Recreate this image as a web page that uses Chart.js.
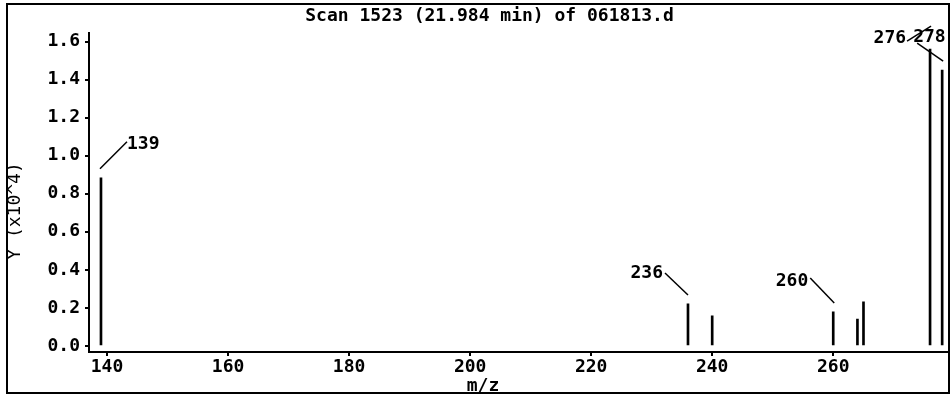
<!DOCTYPE html>
<html>
<head>
<meta charset="utf-8">
<script src="https://cdn.jsdelivr.net/npm/chart.js@4.4.1/dist/chart.umd.min.js"></script>
<style>
  html, body { margin: 0; padding: 0; background: #fff; }
  #wrap { width: 951px; height: 396px; }
</style>
</head>
<body>
<div id="wrap"><canvas id="c" width="951" height="396"></canvas></div>
<script>
// mass spectrum, intensities in units of 10^4
const mzValues = [139, 236, 240, 260, 264, 265, 276, 278];
const intensities = [0.884, 0.221, 0.158, 0.179, 0.142, 0.232, 1.56, 1.45];
const labeledPeaks = ['139', '236', '260', '276', '278'];
const xTicks = [140, 160, 180, 200, 220, 240, 260];
const yTicks = [0.0, 0.2, 0.4, 0.6, 0.8, 1.0, 1.2, 1.4, 1.6];
const titleText = 'Scan 1523 (21.984 min) of 061813.d';
const xTitle = 'm/z';
const yTitle = 'Y (x10^4)';

const FONT = '"DejaVu Sans Mono", "Liberation Mono", monospace';

// leader line + text placement for each peak label (relative to bar top)
const leaderStyle = {
  '139': { from: [-1, -9], to: [26, -36], text: [26, -33], align: 'left' },
  '236': { from: [0, -9], to: [-23, -31], text: [-25, -31], align: 'right' },
  '260': { from: [1, -9], to: [-23, -34], text: [-25, -31], align: 'right' },
  '276': { from: [-23, -8], to: [1, -23], text: [-24, -11], align: 'right' },
  '278': { from: [-25, -27], to: [1, -9], text: [-29, -33], align: 'left' }
};

const frame = {
  id: 'frame',
  beforeDraw(chart) {
    const ctx = chart.ctx;
    ctx.save();
    ctx.fillStyle = '#fff';
    ctx.fillRect(0, 0, chart.width, chart.height);
    ctx.strokeStyle = '#000';
    ctx.lineWidth = 2;
    ctx.strokeRect(7, 4, 942, 389);
    ctx.restore();
  },
  afterDraw(chart) {
    const ctx = chart.ctx;
    ctx.save();
    ctx.fillStyle = '#000';
    ctx.textAlign = 'center';
    ctx.textBaseline = 'middle';
    ctx.font = 'bold 18px ' + FONT;
    ctx.fillText(xTitle, 483, 386);
    ctx.font = '18px ' + FONT;
    ctx.translate(15, 211);
    ctx.rotate(-Math.PI / 2);
    ctx.fillText(yTitle, 0, 0);
    ctx.restore();
  }
};

const peakLabels = {
  id: 'peakLabels',
  afterDatasetsDraw(chart) {
    const ctx = chart.ctx;
    const xs = chart.scales.x, ys = chart.scales.y;
    ctx.save();
    ctx.strokeStyle = '#000';
    ctx.fillStyle = '#000';
    ctx.lineWidth = 1.5;
    ctx.font = 'bold 18px ' + FONT;
    ctx.textBaseline = 'middle';
    labeledPeaks.forEach(lbl => {
      const i = mzValues.indexOf(Number(lbl));
      const px = xs.getPixelForValue(mzValues[i]);
      const py = ys.getPixelForValue(intensities[i]);
      const s = leaderStyle[lbl];
      ctx.beginPath();
      ctx.moveTo(px + s.from[0], py + s.from[1]);
      ctx.lineTo(px + s.to[0], py + s.to[1]);
      ctx.stroke();
      ctx.textAlign = s.align;
      ctx.fillText(lbl, px + s.text[0], py + s.text[1]);
    });
    ctx.restore();
  }
};

new Chart(document.getElementById('c'), {
  type: 'bar',
  data: {
    datasets: [{
      data: mzValues.map((m, i) => ({ x: m, y: intensities[i] })),
      backgroundColor: '#000',
      borderWidth: 0,
      barThickness: 2,
      grouped: false
    }]
  },
  options: {
    responsive: false,
    animation: false,
    events: [],
    layout: { padding: { left: 32, right: 4, top: 0, bottom: 0 } },
    plugins: {
      legend: { display: false },
      tooltip: { enabled: false },
      title: {
        display: true,
        text: titleText,
        color: '#000',
        font: { family: FONT, size: 18, weight: 'bold' },
        padding: { top: 6, bottom: 5 }
      }
    },
    scales: {
      x: {
        type: 'linear',
        offset: false,
        min: 137.02,
        max: 278.8,
        afterFit: s => { s.height = 44; },
        afterBuildTicks: s => { s.ticks = xTicks.map(v => ({ value: v })); },
        border: { color: '#000', width: 2 },
        grid: { offset: false, drawOnChartArea: false, color: '#000', tickLength: 4, lineWidth: 2 },
        ticks: {
          color: '#000',
          padding: 1,
          maxRotation: 0,
          font: { family: FONT, size: 18, weight: 'bold' },
          callback: v => String(v)
        }
      },
      y: {
        min: -0.0316,
        max: 1.647,
        afterFit: s => { s.width = 57; },
        afterBuildTicks: s => { s.ticks = yTicks.map(v => ({ value: v })); },
        border: { color: '#000', width: 2 },
        grid: { drawOnChartArea: false, color: '#000', tickLength: 4, lineWidth: 2 },
        ticks: {
          color: '#000',
          padding: 5,
          font: { family: FONT, size: 18, weight: 'bold' },
          callback: v => v.toFixed(1)
        }
      }
    }
  },
  plugins: [frame, peakLabels]
});
</script>
</body>
</html>
